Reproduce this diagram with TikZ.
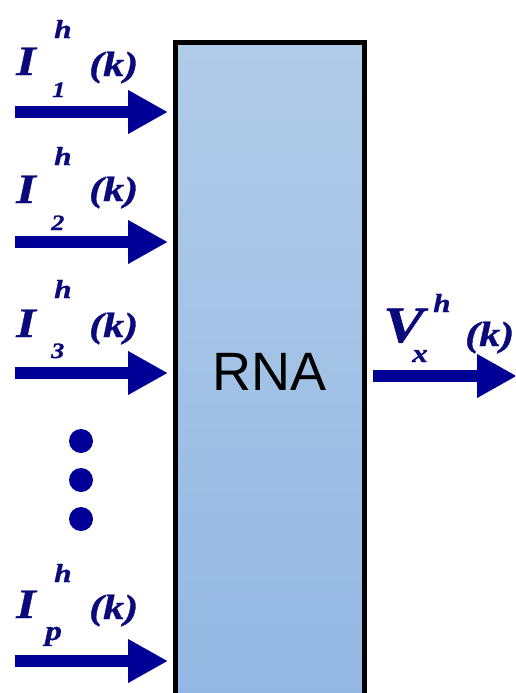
\documentclass[tikz,border=0pt]{standalone}
\usepackage{fontspec}
\setmainfont{Liberation Serif}
\setsansfont{Liberation Sans}
\newfontfamily\lblfont{Liberation Serif}[BoldItalicFeatures={FakeStretch=1.2,FakeBold=1}]
\usetikzlibrary{arrows.meta}
\definecolor{arrblue}{RGB}{0,0,150}
\definecolor{lblblue}{RGB}{10,10,125}
\definecolor{boxtop}{RGB}{177,204,233}
\definecolor{boxbot}{RGB}{147,183,227}
\newcommand{\fs}[1]{\fontsize{#1}{#1}\selectfont}
\tikzset{
  sig/.style={line width=12pt, arrblue, -{Triangle[length=40pt,width=41pt]}},
  lbl/.style={anchor=base west, inner sep=0pt, text=lblblue},
  big/.style={lbl, font=\lblfont\bfseries\itshape\fs{42}},
  sup/.style={lbl, font=\lblfont\bfseries\itshape\fs{26}},
  sub/.style={lbl, font=\lblfont\bfseries\itshape\fs{22}},
  arg/.style={lbl, font=\lblfont\bfseries\itshape\fs{35}},
  dotnode/.style={circle, fill=arrblue, minimum size=24pt, inner sep=0pt},
}
\begin{document}
\begin{tikzpicture}[x=1pt,y=-1pt]
\useasboundingbox (0,0) rectangle (515,693);
\clip (0,0) rectangle (515,693);
% box
\node[draw=black, line width=5pt, top color=boxtop, bottom color=boxbot,
      minimum width=188.5pt, minimum height=657pt, inner sep=0pt,
      font=\sffamily\fs{54}] (rna) at (269.75,371.5) {RNA};
% arrows
\coordinate (s1) at (15,112);  \coordinate (e1) at (168,112);
\coordinate (s2) at (15,242);  \coordinate (e2) at (168,242);
\coordinate (s3) at (15,373);  \coordinate (e3) at (168,373);
\coordinate (sp) at (15,661);  \coordinate (ep) at (168,661);
\coordinate (so) at (373,376); \coordinate (eo) at (517,376);
\draw[sig] (s1) -- (e1);
\draw[sig] (s2) -- (e2);
\draw[sig] (s3) -- (e3);
\draw[sig] (sp) -- (ep);
\draw[sig] (so) -- (eo);
% labels
\node[big] (i1) at (16,75) {I};
\node[sup] (h1) at (54,38) {h};
\node[sub] (n1) at (52,97) {1};
\node[arg] (k1) at (89,76) {(k)};

\node[big] (i2) at (16,203) {I};
\node[sup] (h2) at (54,165) {h};
\node[sub] (n2) at (51,230) {2};
\node[arg] (k2) at (89,201) {(k)};

\node[big] (i3) at (16,337) {I};
\node[sup] (h3) at (54,298) {h};
\node[sub] (n3) at (51,358) {3};
\node[arg] (k3) at (89,337) {(k)};

\node[big] (ip) at (16,618) {I};
\node[sup] (hp) at (54,582) {h};
\node[lbl, font=\lblfont\bfseries\itshape\fs{28}] (np) at (45,640) {p};
\node[arg] (kp) at (89,619) {(k)};

\node[lbl, font=\lblfont\bfseries\itshape\fs{51}] (vo) at (383,342) {V};
\node[sup] (ho) at (433,312) {h};
\node[sup] (xo) at (412,362) {x};
\node[arg] (ko) at (465,346) {(k)};
% dots
\node[dotnode] (d1) at (81,441) {};
\node[dotnode] (d2) at (81,480) {};
\node[dotnode] (d3) at (81,519) {};
\end{tikzpicture}
\end{document}
